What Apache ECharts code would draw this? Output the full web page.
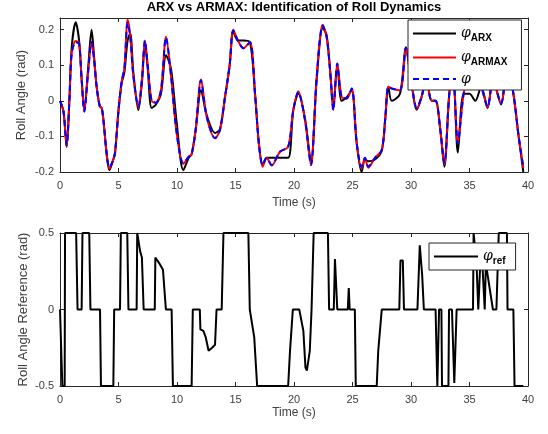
<!DOCTYPE html>
<html>
<head>
<meta charset="utf-8">
<script src="https://cdn.jsdelivr.net/npm/echarts@6/dist/echarts.min.js"></script>
<style>
html, body { margin: 0; padding: 0; background: #fff; }
#chart { width: 548px; height: 434px; }
</style>
</head>
<body>
<div id="chart"></div>
<script>
// Time stamps (s) of the sampled roll responses
const timeTop = [0, 0.3, 0.57, 0.8, 1.0, 1.34, 1.63, 1.85, 2.08, 2.4, 2.7, 2.9, 3.13, 3.4, 3.56, 3.7, 4.0, 4.22, 4.5, 4.7,
  4.99, 5.27, 5.5, 5.78, 6.0, 6.27, 6.7, 7.0, 7.26, 7.5, 7.83, 8.2, 8.63, 9.06, 9.49, 9.97, 10.54, 11.0, 11.25, 11.6,
  12.05, 12.54, 13.25, 13.67, 14.1, 14.5, 14.81, 15.2, 15.67, 16.24, 16.67, 17.0, 17.32, 17.67, 18.09, 18.8, 19.5, 19.94, 20.37, 20.94,
  21.45, 21.94, 22.45, 22.79, 23.1, 23.36, 23.7, 24.07, 24.5, 24.93, 25.36, 25.78, 26.07, 26.35, 26.92, 27.5, 27.8, 28.06, 28.35, 29.06,
  29.57, 30.0, 30.5, 30.9, 31.3, 31.77, 32.1, 32.5, 32.85, 33.3, 33.6, 34.0, 34.5, 35.0, 35.5, 36.0, 36.55, 37.0, 37.7, 38.2,
  38.7, 39.2, 39.6];

// Measured roll angle (rad)
const phiMeas = [0, -0.03, -0.125, 0.0, 0.133, 0.165, 0.16, 0.06, -0.03, 0.08, 0.165, 0.12, 0.04, -0.015, -0.02, -0.05, -0.15, -0.188, -0.17, -0.147,
  -0.03, 0.055, 0.09, 0.22, 0.18, 0.07, -0.015, 0.06, 0.17, 0.1, 0.0, -0.005, 0.03, 0.178, 0.07, -0.09, -0.175, -0.157, -0.15, -0.08,
  0.058, -0.045, -0.105, -0.082, 0.01, 0.1, 0.198, 0.17, 0.148, 0.165, 0.02, -0.12, -0.18, -0.16, -0.18, -0.143, -0.129, -0.026, 0.025, -0.054,
  -0.18, 0.067, 0.212, 0.179, 0.08, -0.026, 0.105, 0.011, 0.007, 0.035, -0.119, -0.185, -0.16, -0.185, -0.16, -0.138, -0.05, 0.04, 0.035, 0.03,
  0.15, 0.06, -0.02, 0.011, 0.06, 0.0, 0.0, -0.08, -0.175, 0.03, 0.06, -0.12, 0.02, 0.08, 0.07, 0.04, -0.017, 0.06, -0.007, 0.08,
  0.03, -0.1, -0.185];

// ARMAX model output (rad)
const phiArmax = [0, -0.03, -0.128, 0.0, 0.135, 0.168, 0.162, 0.06, -0.03, 0.08, 0.166, 0.12, 0.04, -0.015, -0.02, -0.05, -0.15, -0.19, -0.17, -0.147,
  -0.03, 0.055, 0.09, 0.228, 0.185, 0.07, -0.017, 0.06, 0.17, 0.1, 0.0, -0.005, 0.03, 0.18, 0.07, -0.09, -0.177, -0.157, -0.15, -0.08,
  0.06, -0.045, -0.105, -0.082, 0.01, 0.1, 0.2, 0.17, 0.148, 0.165, 0.02, -0.12, -0.185, -0.16, -0.182, -0.143, -0.129, -0.026, 0.027, -0.054,
  -0.18, 0.067, 0.214, 0.179, 0.08, -0.026, 0.105, 0.011, 0.007, 0.035, -0.119, -0.19, -0.16, -0.188, -0.16, -0.138, -0.05, 0.04, 0.035, 0.03,
  0.15, 0.06, -0.022, 0.011, 0.06, 0.0, 0.0, -0.08, -0.178, 0.03, 0.06, -0.12, 0.02, 0.08, 0.07, 0.04, -0.017, 0.06, -0.007, 0.08,
  0.03, -0.1, -0.188];

// ARX model output (rad)
const phiArx = [0, -0.03, -0.13, 0.0, 0.15, 0.221, 0.17, 0.06, -0.025, 0.09, 0.2, 0.13, 0.04, -0.015, -0.02, -0.05, -0.155, -0.195, -0.17, -0.147,
  -0.03, 0.05, 0.08, 0.17, 0.19, 0.08, -0.026, 0.05, 0.16, 0.09, -0.02, -0.01, 0.02, 0.128, 0.09, -0.06, -0.195, -0.16, -0.15, -0.08,
  0.03, -0.04, -0.09, -0.08, 0.01, 0.1, 0.195, 0.17, 0.17, 0.165, 0.02, -0.12, -0.18, -0.16, -0.16, -0.16, -0.16, -0.026, 0.02, -0.05,
  -0.17, 0.06, 0.205, 0.185, 0.08, -0.02, 0.1, 0.0, 0.01, 0.03, -0.119, -0.2, -0.165, -0.17, -0.165, -0.14, -0.05, 0.04, 0.0, 0.02,
  0.15, 0.06, -0.025, 0.01, 0.06, 0.0, 0.0, -0.08, -0.185, 0.03, 0.06, -0.145, 0.02, 0.02, 0.0, 0.04, -0.02, 0.06, -0.01, 0.08,
  0.03, -0.1, -0.2];

// Roll angle reference (rad)
const timeRef = [0, 0.08, 0.2, 0.4, 0.43, 1.38, 1.5, 1.85, 1.92, 2.5, 2.6, 3.42, 3.5, 4.56, 4.63, 5.13, 5.2, 5.75, 5.85, 6.55,
  6.6, 6.75, 6.85, 7.0, 7.15, 8.1, 8.15, 8.3, 8.5, 8.8, 8.95, 9.05, 9.54, 9.65, 11.25, 11.35, 11.95, 12.0, 12.25, 12.45,
  12.7, 13.0, 13.25, 13.38, 13.82, 13.97, 16.1, 16.22, 16.35, 16.6, 16.85, 19.5, 19.66, 19.9, 20.45, 20.8, 20.98, 21.1, 21.35, 21.5,
  21.6, 21.68, 22.9, 23.0, 23.4, 23.5, 23.58, 23.7, 24.6, 24.68, 24.76, 25.2, 25.28, 27.07, 27.2, 27.5, 29.0, 29.1, 29.3, 29.4,
  30.55, 30.75, 30.95, 31.1, 32.1, 32.25, 32.4, 32.6, 32.65, 33.2, 33.25, 33.5, 33.7, 33.9, 35.3, 35.35, 35.5, 35.6, 35.75, 35.85,
  35.95, 36.1, 36.3, 36.4, 36.6, 37.0, 37.3, 37.5, 38.2, 38.25, 38.75, 38.85, 39.6];
const phiRef = [0, 0, -0.5, -0.5, 0.5, 0.5, 0, 0, 0.5, 0.5, 0, 0, -0.5, -0.5, 0, 0, 0.5, 0.5, 0, 0,
  0.5, 0.5, 0.38, 0.34, 0, 0, 0.34, 0.35, 0.3, 0.26, 0.25, 0, 0, -0.5, -0.5, 0, 0, -0.13, -0.14, -0.18,
  -0.27, -0.25, -0.23, 0, 0, 0.5, 0.5, 0, 0, -0.18, -0.5, -0.5, -0.27, 0, 0, -0.14, -0.38, -0.4, -0.27, 0,
  0, 0.5, 0.5, 0, 0, 0.33, 0.34, 0, 0, 0.14, 0, 0, -0.5, -0.5, -0.27, 0, 0, 0.32, 0.32, 0,
  0, 0.42, 0.23, 0, 0, -0.5, 0, 0, -0.5, -0.5, 0, 0, -0.48, 0, 0, 0.5, 0.5, 0.3, 0, 0,
  0.35, 0.3, 0, 0.3, 0.2, 0, 0, 0.5, 0.5, 0, 0, -0.5, -0.5];

const timeTicks = [0, 5, 10, 15, 20, 25, 30, 35, 40];
const topTicks = [-0.2, -0.1, 0, 0.1, 0.2];
const bottomTicks = [-0.5, 0, 0.5];

const pairs = (xs, ys) => xs.map((x, i) => [x, ys[i]]);

const axisColor = '#262626';
const labelColor = '#404040';
const fontFamily = 'Liberation Sans, Arial, sans-serif';

const tickFormatter = list => v => {
  const hit = list.find(t => Math.abs(t - v) < 1e-9);
  return hit === undefined ? '' : String(hit);
};

function xAxisPair(gridIndex, nameGap) {
  return [{
    type: 'value', gridIndex, min: 0, max: 40, interval: 5, position: 'bottom',
    axisLine: { show: true, onZero: false, lineStyle: { color: axisColor, width: 1 } },
    axisTick: { show: true, inside: true, length: 4, lineStyle: { color: axisColor } },
    axisLabel: { color: labelColor, fontSize: 11, fontFamily, margin: 8, formatter: tickFormatter(timeTicks) },
    splitLine: { show: false },
    name: 'Time (s)', nameLocation: 'middle', nameGap, nameMoveOverlap: false,
    nameTextStyle: { color: labelColor, fontSize: 12, fontFamily }
  }, {
    type: 'value', gridIndex, min: 0, max: 40, interval: 5, position: 'top',
    axisLine: { show: true, onZero: false, lineStyle: { color: axisColor, width: 1 } },
    axisTick: { show: true, inside: true, length: 4, lineStyle: { color: axisColor } },
    axisLabel: { show: false }, splitLine: { show: false }
  }];
}

function yAxisPair(gridIndex, min, max, interval, ticks, name, nameGap) {
  return [{
    type: 'value', gridIndex, min, max, interval, position: 'left',
    axisLine: { show: true, onZero: false, lineStyle: { color: axisColor, width: 1 } },
    axisTick: { show: true, inside: true, length: 4, lineStyle: { color: axisColor } },
    axisLabel: { color: labelColor, fontSize: 11, fontFamily, margin: 6, formatter: tickFormatter(ticks) },
    splitLine: { show: false },
    name, nameLocation: 'middle', nameGap, nameRotate: 90, nameMoveOverlap: false,
    nameTextStyle: { color: labelColor, fontSize: 13, fontFamily }
  }, {
    type: 'value', gridIndex, min, max, interval, position: 'right',
    axisLine: { show: true, onZero: false, lineStyle: { color: axisColor, width: 1 } },
    axisTick: { show: true, inside: true, length: 4, lineStyle: { color: axisColor } },
    axisLabel: { show: false }, splitLine: { show: false }
  }];
}

const legendLabels = {
  ARX: '{p|φ}{s|ARX}',
  ARMAX: '{p|φ}{s|ARMAX}',
  Measured: '{p|φ}',
  Reference: '{p|φ}{s|ref}'
};
const legendRich = {
  p: { fontSize: 14, fontStyle: 'italic', fontFamily: 'DejaVu Serif, serif', color: '#000', lineHeight: 20 },
  s: { fontSize: 10, fontWeight: 'bold', fontFamily, color: '#000', padding: [9, 0, 0, 0], lineHeight: 20 }
};

const chart = echarts.init(document.getElementById('chart'), null, { renderer: 'canvas' });
chart.setOption({
  animation: false,
  backgroundColor: '#ffffff',
  graphic: [{
    type: 'text', x: 294, y: 1,
    style: { text: 'ARX vs ARMAX: Identification of Roll Dynamics', fill: '#000',
      font: 'bold 13px Liberation Sans, Arial, sans-serif', align: 'center', verticalAlign: 'top' }
  }],
  grid: [
    { left: 60, right: 20, top: 18, height: 154 },
    { left: 60, right: 20, top: 233, height: 153 }
  ],
  xAxis: [...xAxisPair(0, 25), ...xAxisPair(1, 21)],
  yAxis: [
    ...yAxisPair(0, -0.2, 0.233, 0.1, topTicks, 'Roll Angle (rad)', 32),
    ...yAxisPair(1, -0.5, 0.5, 0.5, bottomTicks, 'Roll Angle Reference (rad)', 30)
  ],
  legend: [{
    data: ['ARX', 'ARMAX', 'Measured'],
    orient: 'vertical', left: 408, top: 20,
    itemWidth: 43, itemHeight: 12, itemGap: 5,
    padding: [4, 14, 4, 4],
    itemStyle: { opacity: 0 },
    backgroundColor: '#fff', borderColor: axisColor, borderWidth: 1, borderRadius: 0,
    formatter: n => legendLabels[n],
    textStyle: { rich: legendRich }
  }, {
    data: ['Reference'],
    orient: 'vertical', left: 429, top: 243,
    itemWidth: 44, itemHeight: 12, itemGap: 5,
    padding: [4, 10, 4, 4],
    itemStyle: { opacity: 0 },
    backgroundColor: '#fff', borderColor: axisColor, borderWidth: 1, borderRadius: 0,
    formatter: n => legendLabels[n],
    textStyle: { rich: legendRich }
  }],
  series: [{
    name: 'ARX', type: 'line', xAxisIndex: 0, yAxisIndex: 0,
    data: pairs(timeTop, phiArx), showSymbol: false, symbol: 'none', smooth: 0.3,
    lineStyle: { color: '#000000', width: 2 }, itemStyle: { color: '#000000' }
  }, {
    name: 'ARMAX', type: 'line', xAxisIndex: 0, yAxisIndex: 0,
    data: pairs(timeTop, phiArmax), showSymbol: false, symbol: 'none', smooth: 0.3,
    lineStyle: { color: '#ff0000', width: 2 }, itemStyle: { color: '#ff0000' }
  }, {
    name: 'Measured', type: 'line', xAxisIndex: 0, yAxisIndex: 0,
    data: pairs(timeTop, phiMeas), showSymbol: false, symbol: 'none', smooth: 0.3,
    lineStyle: { color: '#0000ff', width: 2, type: [6, 4] }, itemStyle: { color: '#0000ff' }
  }, {
    name: 'Reference', type: 'line', xAxisIndex: 2, yAxisIndex: 2,
    data: pairs(timeRef, phiRef), showSymbol: false, symbol: 'none',
    lineStyle: { color: '#000000', width: 2 }, itemStyle: { color: '#000000' }
  }]
});
</script>
</body>
</html>
